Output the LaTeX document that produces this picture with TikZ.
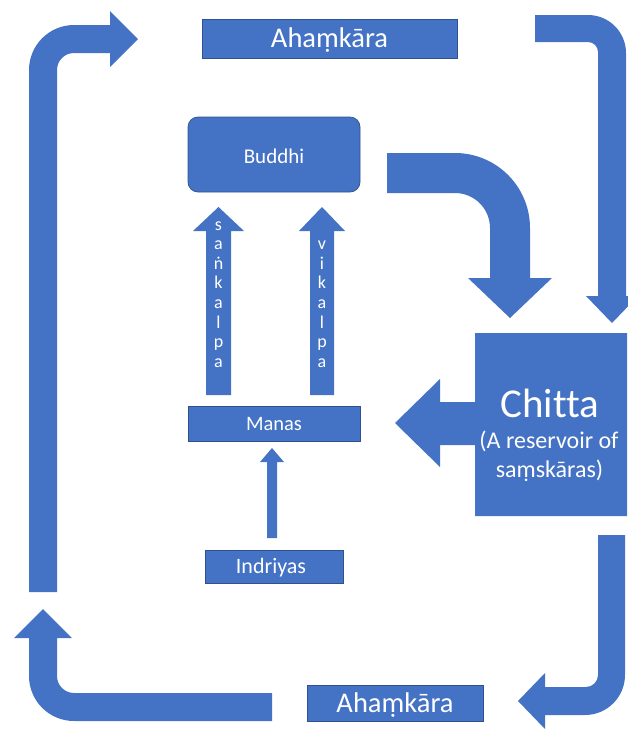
\documentclass[tikz,border=0pt]{standalone}
\usepackage{fontspec}
\setmainfont{Carlito}[Ligatures=NoCommon]
\definecolor{ofblue}{HTML}{4472C4}
\definecolor{ofedge}{HTML}{2F528F}
\begin{document}
\begin{tikzpicture}[x=1pt,y=-1pt,
  blk/.style={fill=ofblue},
  boxsty/.style={fill=ofblue, draw=ofedge, line width=0.7pt},
  lbl/.style={text=white, inner sep=0pt, anchor=base},
  letter/.style={text=white, inner sep=0pt, anchor=base, font=\fontsize{18}{20}\selectfont}]
\useasboundingbox (0,0) rectangle (628,729);
\clip (0,0) rectangle (628,729);

% boxes
\path[boxsty] (202,19) rectangle (457,58);
\path[boxsty, rounded corners=10pt] (188,117) rectangle (360,192);
\path[boxsty] (188,406) rectangle (360,441);
\path[boxsty] (205,550) rectangle (343,583);
\path[boxsty] (307,685) rectangle (483,721);

% Chitta box with its left arrow
\fill[blk] (475,333) -- (627,333) -- (627,516) -- (475,516) -- (475,445) -- (440,445)
  -- (440,467) -- (395,423) -- (440,379) -- (440,402) -- (475,402) -- cycle;

% left arrow up to top Ahamkara
\fill[blk] (29,592) -- (29,70) arc[start angle=180, end angle=270, radius=45]
  -- (110,25) -- (110,11) -- (138,39) -- (110,67) -- (110,53) -- (74,53)
  arc[start angle=270, end angle=180, radius=17] -- (57,592) -- cycle;

% top Ahamkara to Chitta
\fill[blk] (535,15) -- (588,15) arc[start angle=-90, end angle=0, radius=38]
  -- (626,296) -- (638,296) -- (612,323) -- (586,296) -- (598,296) -- (598,52)
  arc[start angle=0, end angle=-90, radius=10] -- (535,42) -- cycle;

% Buddhi to Chitta
\fill[blk] (387,153) -- (455,153) arc[start angle=-90, end angle=0, radius=75]
  -- (530,278) -- (552,278) -- (510,318) -- (468,278) -- (490,278) -- (490,228)
  arc[start angle=0, end angle=-90, radius=35] -- (387,193) -- cycle;

% Chitta to bottom Ahamkara
\fill[blk] (598,535) -- (625,535) -- (625,675) arc[start angle=0, end angle=90, radius=40]
  -- (545,715) -- (545,729) -- (518,701) -- (545,673) -- (545,687) -- (586,687)
  arc[start angle=90, end angle=0, radius=12] -- cycle;

% bottom Ahamkara round to left arrow
\fill[blk] (272,693) -- (272,721) -- (74,721) arc[start angle=90, end angle=180, radius=45]
  -- (29,638) -- (14,638) -- (43,609) -- (72,638) -- (57,638) -- (57,676)
  arc[start angle=180, end angle=90, radius=17] -- cycle;

% sankalpa / vikalpa / indriyas arrows
\fill[blk] (206,395) -- (206,231) -- (193,231) -- (218.5,207) -- (244,231) -- (231,231) -- (231,395) -- cycle;
\fill[blk] (310,395) -- (310,231) -- (299,231) -- (322,207) -- (345,231) -- (334,231) -- (334,395) -- cycle;
\fill[blk] (267,538) -- (267,462) -- (260,462) -- (272,448) -- (284,462) -- (277,462) -- (277,538) -- cycle;

% texts
\node[lbl, font=\fontsize{28.5}{34}\selectfont] (ahtop) at (329.5,47) {Ahaṃkāra};
\node[lbl, font=\fontsize{28.5}{34}\selectfont] (ahbot) at (395,712) {Ahaṃkāra};
\node[lbl, font=\fontsize{21}{25}\selectfont] (buddhi) at (274,163) {Buddhi};
\node[lbl, font=\fontsize{20.5}{25}\selectfont] (manas) at (274,430) {Manas};
\node[lbl, font=\fontsize{22}{26}\selectfont] (indriyas) at (271,573) {Indriyas};
\node[lbl, font=\fontsize{41}{48}\selectfont] (chitta) at (550,417) {Chitta};
\node[lbl, font=\fontsize{24}{29}\selectfont] (res1) at (549,448) {(A reservoir of};
\node[lbl, font=\fontsize{24}{29}\selectfont] (res2) at (549.5,477) {saṃskāras)};

\foreach \c [count=\i from 0] in {s,a,ṅ,k,a,l,p,a}
  \node[letter] (sk\i) at (218.5,{230+19.6*\i}) {\c};
\foreach \c [count=\i from 0] in {v,i,k,a,l,p,a}
  \node[letter] (vk\i) at (322,{249.6+19.6*\i}) {\c};
\end{tikzpicture}
\end{document}
